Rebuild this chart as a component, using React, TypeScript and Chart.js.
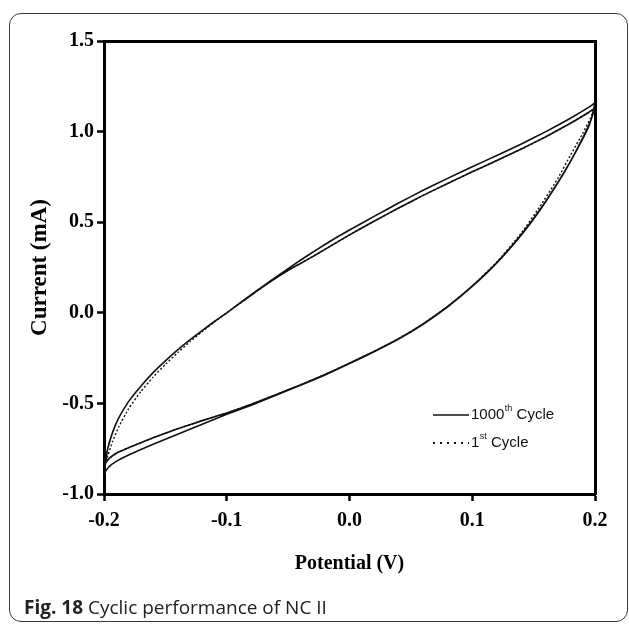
import React, { useEffect, useRef } from "react";
import { Chart, registerables } from "chart.js";

Chart.register(...registerables);

// ---- data ----
const potentialTicks = [-0.2, -0.1, 0.0, 0.1, 0.2];
const currentTicks = [-1.0, -0.5, 0.0, 0.5, 1.0, 1.5];

// 1000th cycle (solid): the trace runs round the loop twice (two close laps)
const c1000LapAUpperV = [-0.2, -0.197, -0.193, -0.188, -0.18, -0.17, -0.16, -0.15, -0.14, -0.13, -0.12, -0.11, -0.1, -0.09, -0.08, -0.07, -0.06, -0.05, -0.04, -0.03, -0.02, -0.01, 0, 0.02, 0.04, 0.06, 0.08, 0.1, 0.12, 0.14, 0.16, 0.18, 0.195, 0.2];
const c1000LapAUpperI = [-0.84, -0.75, -0.66, -0.58, -0.49, -0.405, -0.33, -0.265, -0.205, -0.15, -0.098, -0.048, 0.0, 0.05, 0.1, 0.149, 0.197, 0.244, 0.29, 0.334, 0.377, 0.418, 0.457, 0.532, 0.606, 0.676, 0.742, 0.806, 0.868, 0.932, 1.0, 1.074, 1.135, 1.16];
const c1000LapALowerV = [0.2, 0.197, 0.19, 0.18, 0.17, 0.155, 0.14, 0.12, 0.1, 0.08, 0.06, 0.04, 0.02, 0, -0.02, -0.04, -0.06, -0.08, -0.1, -0.12, -0.14, -0.16, -0.18, -0.19, -0.196, -0.2];
const c1000LapALowerI = [1.16, 1.07, 0.965, 0.835, 0.72, 0.565, 0.43, 0.275, 0.145, 0.033, -0.063, -0.145, -0.215, -0.28, -0.343, -0.4, -0.455, -0.51, -0.56, -0.615, -0.67, -0.725, -0.785, -0.82, -0.85, -0.886];
const c1000LapBUpperV = [-0.2, -0.199, -0.197, -0.193, -0.188, -0.18, -0.17, -0.16, -0.15, -0.14, -0.13, -0.12, -0.11, -0.1, -0.09, -0.08, -0.07, -0.06, -0.05, -0.04, -0.03, -0.02, 0, 0.02, 0.04, 0.06, 0.08, 0.1, 0.12, 0.14, 0.16, 0.18, 0.195, 0.2];
const c1000LapBUpperI = [-0.886, -0.84, -0.75, -0.66, -0.58, -0.49, -0.405, -0.33, -0.265, -0.205, -0.15, -0.098, -0.048, 0.0, 0.049, 0.098, 0.146, 0.192, 0.235, 0.272, 0.31, 0.35, 0.43, 0.505, 0.578, 0.648, 0.714, 0.778, 0.84, 0.904, 0.972, 1.046, 1.107, 1.13];
const c1000LapBLowerV = [0.2, 0.198, 0.195, 0.19, 0.18, 0.17, 0.155, 0.14, 0.12, 0.1, 0.08, 0.06, 0.04, 0.02, 0, -0.02, -0.04, -0.06, -0.08, -0.1, -0.12, -0.14, -0.16, -0.18, -0.19, -0.196, -0.2];
const c1000LapBLowerI = [1.13, 1.09, 1.03, 0.96, 0.835, 0.722, 0.567, 0.432, 0.277, 0.147, 0.035, -0.061, -0.143, -0.213, -0.278, -0.341, -0.398, -0.452, -0.505, -0.553, -0.595, -0.64, -0.69, -0.745, -0.775, -0.805, -0.84];

// 1st cycle (dotted)
const c1UpperV = [-0.2, -0.197, -0.193, -0.188, -0.18, -0.17, -0.16, -0.15, -0.14, -0.13, -0.12, -0.11, -0.1, -0.09, -0.08, -0.07, -0.06, -0.05, -0.04, -0.03, -0.02, 0, 0.02, 0.04, 0.06, 0.08, 0.1, 0.12, 0.14, 0.16, 0.18, 0.195, 0.2];
const c1UpperI = [-0.84, -0.79, -0.71, -0.63, -0.53, -0.435, -0.355, -0.285, -0.22, -0.16, -0.104, -0.05, 0.0, 0.049, 0.098, 0.146, 0.192, 0.235, 0.272, 0.31, 0.35, 0.43, 0.505, 0.578, 0.648, 0.714, 0.778, 0.84, 0.904, 0.972, 1.046, 1.107, 1.13];
const c1LowerV = [0.2, 0.196, 0.19, 0.18, 0.17, 0.155, 0.14, 0.12, 0.1, 0.08, 0.06, 0.04, 0.02, 0, -0.02, -0.04, -0.06, -0.08, -0.1, -0.12, -0.14, -0.16, -0.18, -0.19, -0.196, -0.2];
const c1LowerI = [1.13, 1.07, 0.99, 0.87, 0.745, 0.585, 0.44, 0.28, 0.148, 0.035, -0.061, -0.143, -0.213, -0.278, -0.341, -0.398, -0.452, -0.505, -0.553, -0.595, -0.64, -0.69, -0.745, -0.775, -0.805, -0.84];

const seriesNames = ["1000th Cycle", "1st Cycle"];
const legendParts = [
  ["1000", "th", " Cycle"],
  ["1", "st", " Cycle"],
];
const xTitle = "Potential (V)";
const yTitle = "Current (mA)";
const captionBold = "Fig. 18";
const captionText = " Cyclic performance of NC II";

const W = 629;
const H = 624;
const serif = '"Liberation Serif", "Times New Roman", serif';

const legendPlugin = {
  id: "cycleLegend",
  afterDraw(chart: any) {
    const { ctx, chartArea } = chart;
    const x0 = chartArea.right - 162;
    const rows = [chartArea.bottom - 79, chartArea.bottom - 51];
    ctx.save();
    chart.data.datasets.forEach((ds: any, i: number) => {
      const y = rows[i];
      ctx.beginPath();
      ctx.strokeStyle = "#111";
      ctx.lineWidth = i === 0 ? 1.5 : 1.8;
      ctx.setLineDash(i === 0 ? [] : [2, 5]);
      ctx.moveTo(x0, y);
      ctx.lineTo(x0 + 36, y);
      ctx.stroke();
      ctx.setLineDash([]);
      const [base, sup, rest] = legendParts[i];
      ctx.fillStyle = "#111";
      ctx.textBaseline = "middle";
      ctx.textAlign = "left";
      let tx = x0 + 38;
      ctx.font = '15px "Liberation Sans", Arial, sans-serif';
      ctx.fillText(base, tx, y);
      tx += ctx.measureText(base).width + 0.5;
      ctx.font = '9px "Liberation Sans", Arial, sans-serif';
      ctx.fillText(sup, tx, y - 6);
      tx += ctx.measureText(sup).width;
      ctx.font = '15px "Liberation Sans", Arial, sans-serif';
      ctx.fillText(rest, tx, y);
    });
    ctx.restore();
  },
};

export default function App() {
  const ref = useRef<HTMLCanvasElement | null>(null);

  useEffect(() => {
    document.body.style.margin = "0";
    const canvas = ref.current;
    if (!canvas) return;
    const mk = (pairs: [number[], number[]][]) =>
      pairs.flatMap(([xs, ys]) => xs.map((x, i) => ({ x, y: ys[i] })));
    const tickFont = { family: serif, size: 20, weight: "bold" as const };
    const chart = new Chart(canvas, {
      type: "scatter",
      data: {
        datasets: [
          {
            label: seriesNames[0],
            data: mk([
              [c1000LapAUpperV, c1000LapAUpperI],
              [c1000LapALowerV, c1000LapALowerI],
              [c1000LapBUpperV, c1000LapBUpperI],
              [c1000LapBLowerV, c1000LapBLowerI],
            ]),
            showLine: true,
            borderColor: "#111",
            borderWidth: 1.6,
            pointRadius: 0,
            tension: 0.15,
            fill: false,
          },
          {
            label: seriesNames[1],
            data: mk([
              [c1UpperV, c1UpperI],
              [c1LowerV, c1LowerI],
            ]),
            showLine: true,
            borderColor: "#111",
            borderWidth: 1.4,
            borderDash: [2, 2],
            pointRadius: 0,
            tension: 0.15,
            fill: false,
          },
        ],
      },
      options: {
        animation: false,
        responsive: false,
        devicePixelRatio: 1,
        events: [],
        layout: { padding: { left: 0, top: 41, right: 34, bottom: 0 } },
        plugins: { legend: { display: false }, tooltip: { enabled: false } },
        scales: {
          x: {
            type: "linear",
            position: "bottom",
            min: -0.2,
            max: 0.2,
            afterBuildTicks: (s: any) => {
              s.ticks = potentialTicks.map((v) => ({ value: v }));
            },
            afterFit: (s: any) => {
              s.height = H - 494;
            },
            ticks: {
              callback: (v: any) => Number(v).toFixed(1),
              font: tickFont,
              color: "#000",
              padding: 8,
              maxRotation: 0,
              autoSkip: false,
            },
            grid: { drawOnChartArea: false, drawTicks: true, tickLength: 7, tickWidth: 2.5, color: "#000" },
            border: { display: true, width: 3, color: "#000" },
            title: {
              display: true,
              text: xTitle,
              color: "#000",
              font: { family: serif, size: 20, weight: "bold" },
              padding: { top: 0, bottom: 48 },
            },
          },
          y: {
            type: "linear",
            position: "left",
            min: -1,
            max: 1.5,
            afterBuildTicks: (s: any) => {
              s.ticks = currentTicks.map((v) => ({ value: v }));
            },
            afterFit: (s: any) => {
              s.width = 104;
            },
            ticks: {
              callback: (v: any) => Number(v).toFixed(1),
              font: tickFont,
              color: "#000",
              padding: 3,
              autoSkip: false,
            },
            grid: { drawOnChartArea: false, drawTicks: true, tickLength: 7, tickWidth: 2.5, color: "#000" },
            border: { display: true, width: 3, color: "#000" },
            title: {
              display: true,
              text: yTitle,
              color: "#000",
              font: { family: serif, size: 23, weight: "bold" },
              padding: { top: 26, bottom: 0 },
            },
          },
          x2: {
            type: "linear",
            position: "top",
            display: true,
            min: -0.2,
            max: 0.2,
            ticks: { display: false },
            grid: { display: false, drawTicks: false },
            border: { display: true, width: 3, color: "#000" },
            afterFit: (s: any) => {
              s.height = 0;
            },
          },
          y2: {
            type: "linear",
            position: "right",
            display: true,
            min: -1,
            max: 1.5,
            ticks: { display: false },
            grid: { display: false, drawTicks: false },
            border: { display: true, width: 3, color: "#000" },
            afterFit: (s: any) => {
              s.width = 0;
            },
          },
        },
      },
      plugins: [legendPlugin],
    });
    return () => chart.destroy();
  }, []);

  return (
    <div style={{ position: "relative", width: W, height: H, background: "#fff", overflow: "hidden" }}>
      <div
        style={{
          position: "absolute",
          left: 9,
          top: 13,
          width: 619,
          height: 609,
          boxSizing: "border-box",
          border: "1.5px solid #3a3a3a",
          borderRadius: 12,
        }}
      />
      <canvas
        ref={ref}
        width={W}
        height={H}
        style={{ position: "absolute", left: 0, top: 0, width: W, height: H }}
      />
      <div
        style={{
          position: "absolute",
          left: 24,
          top: 595,
          lineHeight: "24px",
          fontFamily: '"Open Sans", "Noto Sans", sans-serif',
          fontSize: 19,
          color: "#222",
          whiteSpace: "nowrap",
        }}
      >
        <b>{captionBold}</b>
        {captionText}
      </div>
    </div>
  );
}
